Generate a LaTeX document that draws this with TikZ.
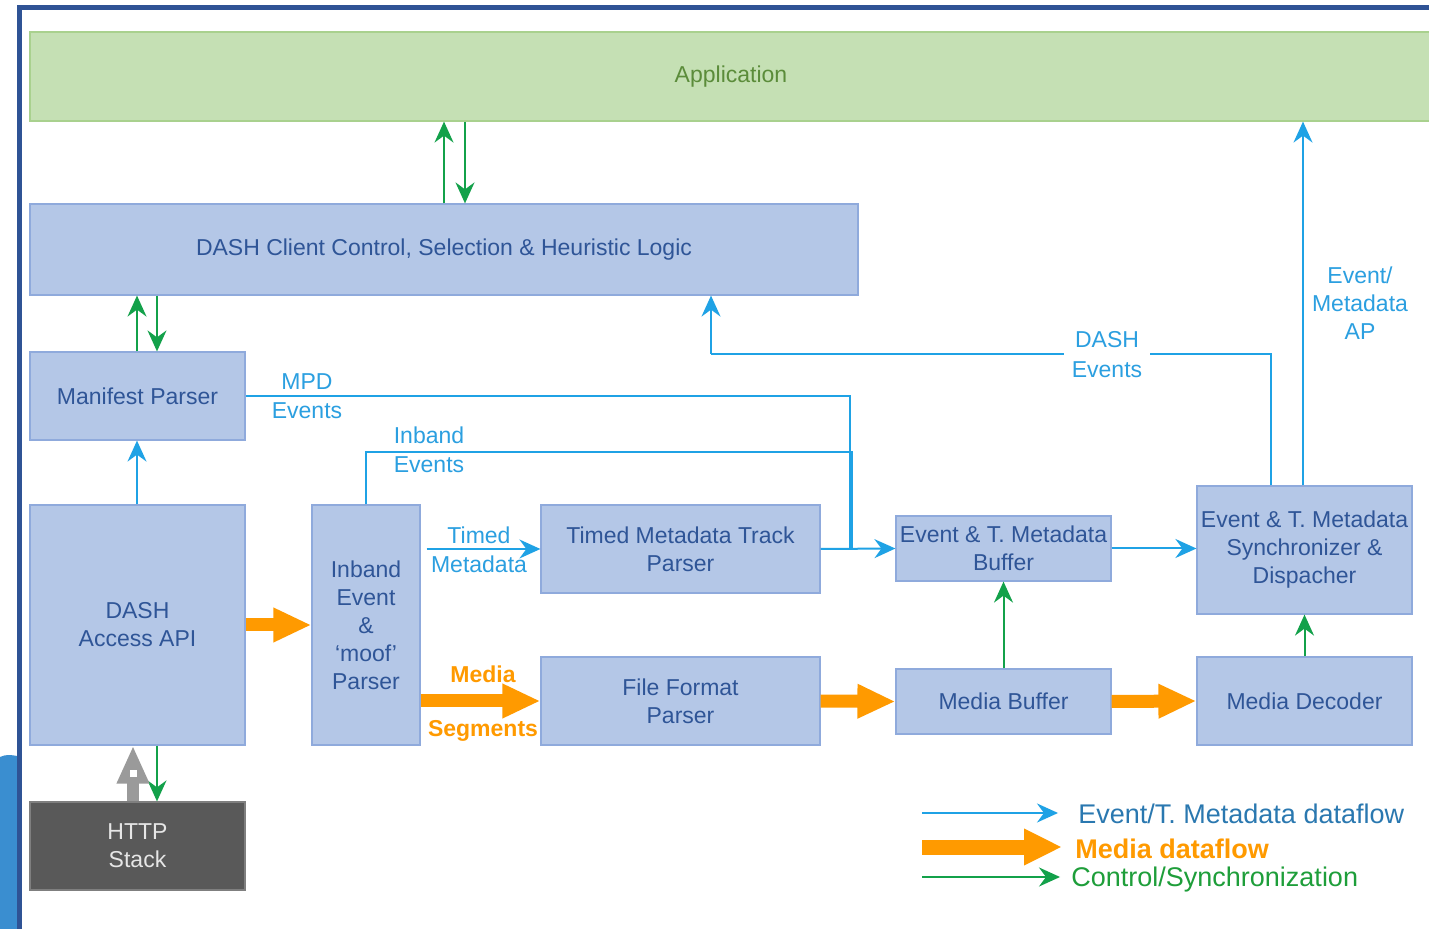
\documentclass[tikz,border=0pt]{standalone}
\usepackage{fontspec}
\setmainfont{Liberation Sans}
\usetikzlibrary{arrows.meta}
\definecolor{boxfill}{HTML}{B4C7E7}
\definecolor{boxline}{HTML}{8FAADC}
\definecolor{boxtext}{HTML}{2F5597}
\definecolor{appfill}{HTML}{C5E0B4}
\definecolor{appline}{HTML}{A9D18E}
\definecolor{apptext}{HTML}{5B8C3A}
\definecolor{evblue}{HTML}{1FA2E5}
\definecolor{lblblue}{HTML}{2B9FE0}
\definecolor{ctlgreen}{HTML}{13A14A}
\definecolor{medorange}{HTML}{FF9A00}
\definecolor{frameblue}{HTML}{2F5395}
\definecolor{blobblue}{HTML}{3A8ED0}
\definecolor{httpfill}{HTML}{595959}
\definecolor{httpline}{HTML}{7F7F7F}
\definecolor{httptext}{HTML}{E6E6E6}
\definecolor{grayarrow}{HTML}{9A9A9A}
\definecolor{legblue}{HTML}{2A78B0}
\definecolor{leggreen}{HTML}{1E9E3A}
\newcommand\mainfs{\fontsize{11.5}{14}\selectfont}
\newcommand\legfs{\fontsize{13.5}{16}\selectfont}
\begin{document}
\begin{tikzpicture}[x=0.5pt,y=-0.5pt,
  box/.style={draw=boxline, fill=boxfill, line width=0.6pt, text=boxtext, font=\mainfs, align=center, inner sep=0pt},
  lbl/.style={text=lblblue, font=\mainfs, align=center, inner sep=0pt},
  mlbl/.style={text=medorange, font=\mainfs\bfseries, align=center, inner sep=0pt},
  evt/.style={draw=evblue, line width=1pt, -{Stealth[length=10.5pt,width=9.5pt,inset=3.5pt]}},
  evl/.style={draw=evblue, line width=1pt},
  ctl/.style={draw=ctlgreen, line width=1pt, -{Stealth[length=10.5pt,width=9.5pt,inset=3.5pt]}},
  med/.style={draw=medorange, line width=6.5pt, -{Triangle[length=19pt,width=16pt]}},
  gry/.style={draw=grayarrow, line width=6pt, -{Triangle[length=19pt,width=15pt]}}]
\useasboundingbox (0,0) rectangle (1429,929);
\clip (0,0) rectangle (1429,929);
\fill[white] (0,0) rectangle (1429,929);
% background remnants
\fill[blobblue] (0,757) .. controls (6,754) and (12,755) .. (17,756) -- (17,929) -- (0,929) -- cycle;
\draw[frameblue, line width=2.5pt] (19.5,935) -- (19.5,7.5) -- (1440,7.5);

% boxes
\node[box, fill=appfill, draw=appline, text=apptext, minimum width=701pt, minimum height=44.5pt] (app) at (731,76.5) {Application};
\node[box, minimum width=414pt, minimum height=45.5pt] (dash) at (444,249.5) {DASH Client Control, Selection \& Heuristic Logic};
\node[box, minimum width=107.5pt, minimum height=44pt] (mp) at (137.5,396) {Manifest Parser};
\node[box, minimum width=107.5pt, minimum height=120pt] (api) at (137.5,625) {DASH\\Access API};
\node[box, fill=httpfill, draw=httpline, text=httptext, minimum width=107.5pt, minimum height=44pt] (http) at (137.5,846) {HTTP\\Stack};
\node[box, minimum width=54pt, minimum height=120pt] (inb) at (366,625) {Inband\\Event\\\&\\`moof'\\Parser};
\node[box, minimum width=139.5pt, minimum height=44pt] (tmp) at (680.5,549) {Timed Metadata Track\\Parser};
\node[box, minimum width=139.5pt, minimum height=44pt] (ffp) at (680.5,701) {File Format\\Parser};
\node[box, minimum width=107.5pt, minimum height=32.5pt] (ebuf) at (1003.5,548.5) {Event \& T. Metadata\\Buffer};
\node[box, minimum width=107.5pt, minimum height=32.5pt] (mbuf) at (1003.5,701.5) {Media Buffer};
\node[box, minimum width=107.5pt, minimum height=64pt] (sync) at (1304.5,550) {Event \& T. Metadata\\Synchronizer \&\\Dispacher};
\node[box, minimum width=107.5pt, minimum height=44pt] (dec) at (1304.5,701) {Media Decoder};

% helper coordinates
\coordinate (xa) at (444,0);
\coordinate (xb) at (465,0);
\coordinate (xc) at (137,0);
\coordinate (xd) at (157,0);
\coordinate (xe) at (133,0);
\coordinate (xf) at (1271,0);
\coordinate (xg) at (1303,0);
\coordinate (xh) at (711,0);
\coordinate (j1) at (850,549);
\coordinate (j2a) at (852,452);
\coordinate (j2) at (852,549);
\coordinate (k1) at (711,354);

% control / synchronization
\draw[ctl] (dash.north -| xa) -- (app.south -| xa);
\draw[ctl] (app.south -| xb) -- (dash.north -| xb);
\draw[ctl] (mp.north -| xc) -- (dash.south -| xc);
\draw[ctl] (dash.south -| xd) -- (mp.north -| xd);
\draw[ctl] (api.south -| xd) -- (http.north -| xd);
\draw[ctl] (mbuf.north) -- (ebuf.south);
\draw[ctl] (dec.north) -- (sync.south);

% event / metadata dataflow
\draw[evt] (api.north -| xc) -- (mp.south -| xc);
\draw[evl] (mp.east) -| (j1);
\draw[evl] (inb.north) |- (j2a) -- (j2);
\draw[evt, shorten <=3pt] (inb.east |- tmp.west) -- (tmp.west);
\draw[evt] (tmp.east) -- (ebuf.west);
\draw[evt] (ebuf.east) -- (ebuf.east -| sync.west);
\draw[evl] (sync.north -| xf) |- (k1);
\draw[evt] (k1) -- (dash.south -| xh);
\draw[evt] (sync.north -| xg) -- (app.south -| xg);

\node[lbl] (lmpd) at (307,396.5) {MPD\\[0.6pt]Events};
\node[lbl] (linb) at (429,449.5) {Inband\\[0.6pt]Events};
\node[lbl] (ltm) at (479,549.5) {Timed\\[0.6pt]Metadata};
\node[lbl, fill=white, inner xsep=4pt, inner ysep=1pt] (lde) at (1107,354.5) {DASH\\[0.6pt]Events};
\node[lbl] (lap) at (1360,303.5) {Event/\\Metadata\\AP};

% media dataflow
\draw[med] (api.east) -- (inb.west);
\draw[med] (inb.east |- ffp.west) -- (ffp.west);
\draw[med] (ffp.east) -- (mbuf.west);
\draw[med] (mbuf.east) -- (dec.west);
\node[mlbl] (lm1) at (483,674) {Media};
\node[mlbl] (lm2) at (483,731) {Segments};

% HTTP request arrow
\draw[gry] (http.north -| xe) -- (api.south -| xe);
\fill[white] (129.5,769.5) rectangle (136.5,776.5);

% legend
\coordinate (l1a) at (922,813);
\coordinate (l1b) at (1058,813);
\coordinate (l2a) at (922,847);
\coordinate (l2b) at (1062,847);
\coordinate (l3a) at (922,877);
\coordinate (l3b) at (1060,877);
\draw[evt] (l1a) -- (l1b);
\draw[draw=medorange, line width=7.5pt, -{Triangle[length=19pt,width=17pt]}] (l2a) -- (l2b);
\draw[ctl] (l3a) -- (l3b);
\node[anchor=base west, inner sep=0pt, text=legblue, font=\legfs] (t1) at (1078,823) {Event/T. Metadata dataflow};
\node[anchor=base west, inner sep=0pt, text=medorange, font=\legfs\bfseries] (t2) at (1075,858) {Media dataflow};
\node[anchor=base west, inner sep=0pt, text=leggreen, font=\legfs] (t3) at (1071,886) {Control/Synchronization};
\end{tikzpicture}
\end{document}
